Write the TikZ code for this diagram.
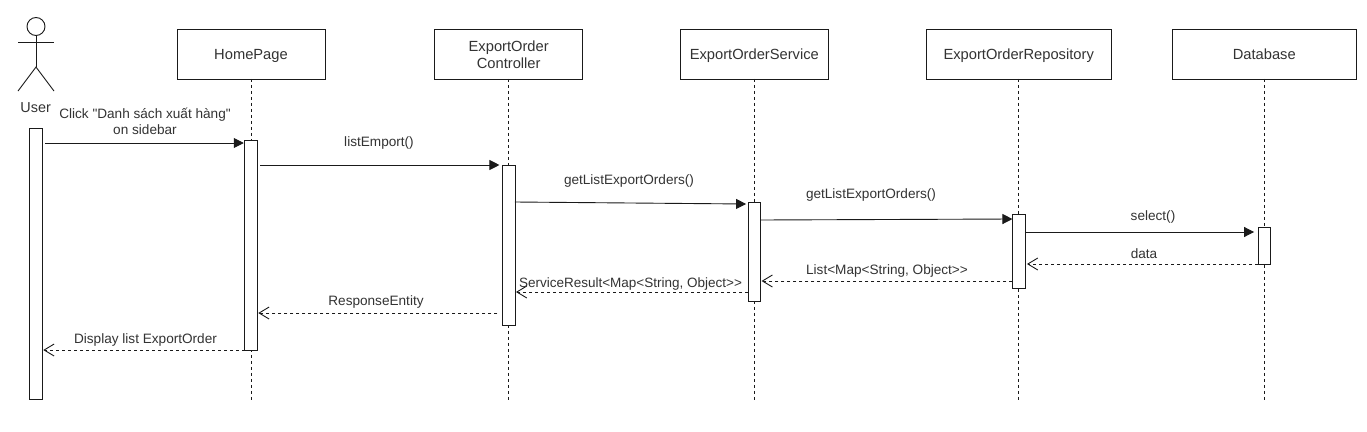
\documentclass[tikz,border=0pt]{standalone}
\usepackage{fontspec}
\setmainfont[Ligatures=TeXOff]{Liberation Sans}
\usetikzlibrary{arrows.meta}
\definecolor{ink}{HTML}{1A1A1A}
\definecolor{txt}{HTML}{333333}
\tikzset{
  x=1pt,y=-1pt,
  every node/.style={inner sep=0pt,outer sep=0pt,text=txt,font=\fontsize{13.6}{16}\selectfont},
  headbox/.style={draw=ink,line width=.9pt,fill=white,minimum width=148pt,minimum height=49.5pt,align=center,font=\fontsize{14.7}{17}\selectfont},
  oneline/.style={text height=13pt,text depth=2pt},
  widebox/.style={headbox,oneline,minimum width=184.5pt},
  bar/.style={draw=ink,line width=.9pt,fill=white,minimum width=12.5pt,anchor=north},
  lifeline/.style={draw=ink,line width=.9pt,dash pattern=on 3pt off 3pt},
  callmsg/.style={draw=ink,line width=.9pt,-{Triangle[length=10pt,width=10pt]}},
  retmsg/.style={draw=ink,line width=.9pt,dash pattern=on 3pt off 3pt,-{Straight Barb[length=10pt,width=12pt,line width=.9pt]}},
  msg/.style={align=center},
  actorline/.style={draw=ink,line width=.9pt}
}
\begin{document}
\begin{tikzpicture}
\useasboundingbox (0,0) rectangle (1367,431);
\fill[white] (0,0) rectangle (1367,431);
% heads
\node[headbox,oneline] (home) at (251,54.2) {HomePage};
\node[headbox] (ctrl) at (508.7,54.2) {\rule{0pt}{11.5pt}ExportOrder\\Controller};
\node[headbox,oneline] (svc) at (754.3,54.2) {ExportOrderService};
\node[widebox] (repo) at (1018.7,54.2) {ExportOrderRepository};
\node[widebox] (db) at (1264.3,54.2) {Database};
% lifeline ends
\coordinate (homeEnd) at (251,400);
\coordinate (ctrlEnd) at (508.7,400);
\coordinate (svcEnd) at (754.3,400);
\coordinate (repoEnd) at (1018.7,400);
\coordinate (dbEnd) at (1264.3,400);
\foreach \a in {home,ctrl,svc,repo,db} \draw[lifeline] (\a.south) -- (\a End);
% actor
\node[draw=ink,line width=.9pt,circle,minimum size=18pt,fill=white] (head) at (36,26.5) {};
\coordinate (hip) at (36,67);
\coordinate (armL) at (18,42);
\coordinate (armR) at (54,42);
\coordinate (legL) at (18,91);
\coordinate (legR) at (54,91);
\draw[actorline] (head.south) -- (hip);
\draw[actorline] (armL) -- (armR);
\draw[actorline] (legL) -- (hip) -- (legR);
\node[font=\fontsize{14.4}{17}\selectfont] (user) at (35.7,107.5) {User};
% activation bars
\node[bar,minimum height=271pt] (uBar) at (36,128) {};
\node[bar,minimum height=210pt] (hBar) at (251,140) {};
\node[bar,minimum height=160pt] (cBar) at (508.7,165) {};
\node[bar,minimum height=99pt] (sBar) at (754.3,202) {};
\node[bar,minimum height=74pt] (rBar) at (1018.7,214) {};
\node[bar,minimum height=37pt] (dBar) at (1264.3,227) {};
% calls
\draw[callmsg] ([xshift=3pt,yshift=-15pt]uBar.north east) -- ([xshift=-1pt,yshift=-3pt]hBar.north west);
\draw[callmsg] ([xshift=3pt,yshift=-25pt]hBar.north east) -- ([xshift=-3pt]cBar.north west);
\draw[callmsg] ([yshift=-37pt]cBar.north east) -- ([xshift=-2pt,yshift=-2pt]sBar.north west);
\draw[callmsg] ([yshift=-18pt]sBar.north east) -- ([yshift=-5pt]rBar.north west);
\draw[callmsg] ([yshift=-18pt]rBar.north east) -- ([xshift=-4pt,yshift=-5pt]dBar.north west);
% returns
\draw[retmsg] (dBar.south west) -- ([xshift=2pt,yshift=24pt]rBar.south east);
\draw[retmsg] ([yshift=7pt]rBar.south west) -- ([xshift=1pt,yshift=20pt]sBar.south east);
\draw[retmsg] ([yshift=9pt]sBar.south west) -- ([xshift=1pt,yshift=33pt]cBar.south east);
\draw[retmsg] ([xshift=-5pt,yshift=12pt]cBar.south west) -- ([xshift=1pt,yshift=37pt]hBar.south east);
\draw[retmsg] (hBar.south west) -- ([xshift=1pt,yshift=49pt]uBar.south east);
% labels
\node[msg] (l1) at (145,121) {Click "Danh sách xuất hàng"\\on sidebar};
\node[msg] (l2) at (379,143) {listEmport()};
\node[msg] (l3) at (629,181) {getListExportOrders()};
\node[msg] (l4) at (871,195) {getListExportOrders()};
\node[msg] (l5) at (1153,217) {select()};
\node[msg] (l6) at (1144,253.5) {data};
\node[msg] (l7) at (887,271) {List<Map<String, Object>>};
\node[msg,font=\fontsize{13.5}{16}\selectfont] (l8) at (630.5,284) {ServiceResult<Map<String, Object>>};
\node[msg] (l9) at (376,302) {ResponseEntity};
\node[msg] (l10) at (145.5,340) {Display list ExportOrder};
\end{tikzpicture}
\end{document}
